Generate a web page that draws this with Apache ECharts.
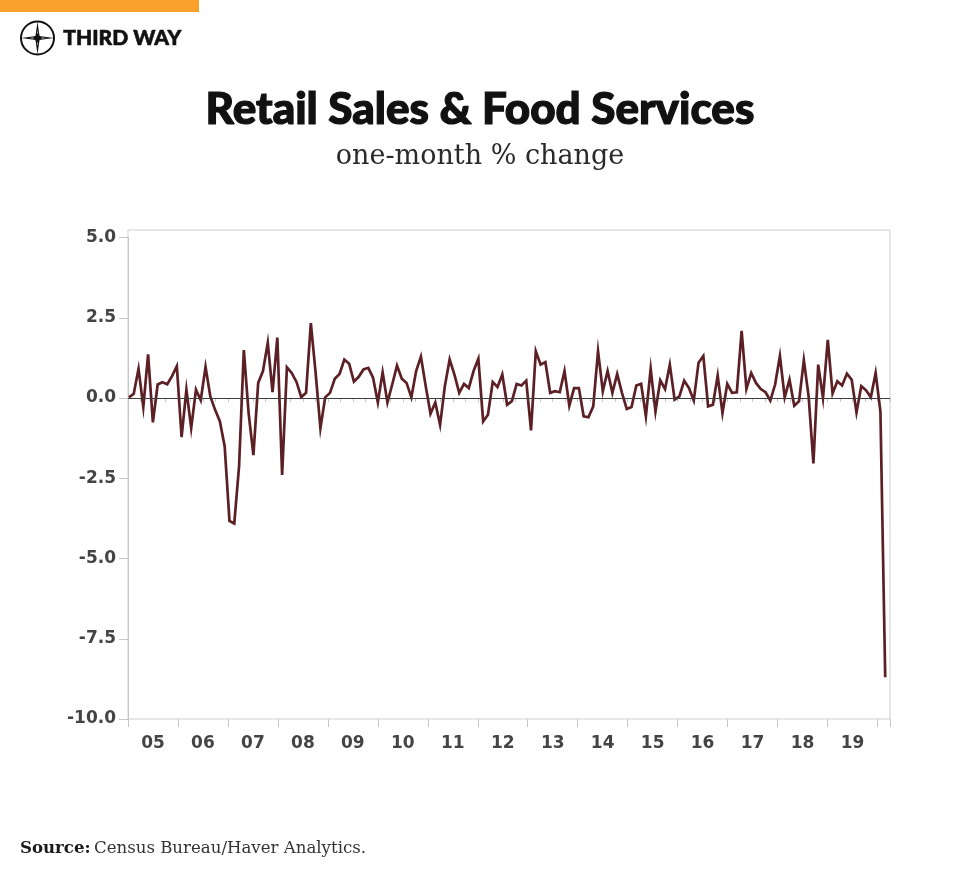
<!DOCTYPE html>
<html>
<head>
<meta charset="utf-8">
<script src="https://cdn.jsdelivr.net/npm/echarts@6/dist/echarts.min.js"></script>
<style>
  html, body { margin: 0; padding: 0; background: #ffffff; }
  #chart { width: 960px; height: 884px; }
</style>
</head>
<body>
<div id="chart"></div>
<script>
// ---- data (monthly % change, Jan 2007 .. Mar 2020, as drawn in the reference) ----
const months = [];
for (let y = 2007; y <= 2020; y++) {
  for (let m = 1; m <= 12; m++) {
    if (y === 2020 && m > 3) break;
    months.push(y + '-' + String(m).padStart(2, '0'));
  }
}
const values = [
  0.02, 0.13, 0.91, -0.28, 1.36, -0.76, 0.42, 0.49, 0.43, 0.68, 0.99, -1.22,
  0.26, -0.94, 0.26, -0.07, 0.97, 0.05, -0.37, -0.73, -1.51, -3.83, -3.91, -2.14,
  1.49, -0.47, -1.78, 0.47, 0.84, 1.72, 0.18, 1.88, -2.40,
  0.96, 0.78, 0.50, 0.03, 0.16, 2.33, 0.78, -0.94, 0.02, 0.16, 0.60, 0.75, 1.20,
  1.07, 0.51, 0.66, 0.89, 0.94, 0.63, -0.14, 0.80, -0.14, 0.42, 1.01, 0.60, 0.47, 0.02,
  0.84, 1.29, 0.37, -0.49, -0.14, -0.84, 0.37, 1.20, 0.73, 0.16, 0.44, 0.31, 0.84,
  1.22, -0.73, -0.52, 0.50, 0.34, 0.73, -0.21, -0.10, 0.44, 0.39, 0.54, -1.01, 1.46,
  1.04, 1.12, 0.16, 0.21, 0.18, 0.84, -0.24, 0.31, 0.31, -0.57, -0.60, -0.26, 1.46,
  0.21, 0.84, 0.16, 0.75, 0.16, -0.34, -0.28, 0.39, 0.44, -0.57, 0.91, -0.42, 0.55,
  0.28, 1.04, -0.05, 0.05, 0.54, 0.31, -0.08, 1.10, 1.31, -0.26, -0.21, 0.70, -0.47,
  0.44, 0.16, 0.18, 2.09, 0.28, 0.78, 0.47, 0.28, 0.18, -0.08, 0.42, 1.31, 0.02, 0.57,
  -0.24, -0.10, 1.18, 0.05, -2.04, 1.04, 0.00, 1.81, 0.14, 0.52, 0.39, 0.76, 0.57,
  -0.45, 0.37, 0.24, 0.02, 0.78, -0.42, -8.70
];
// x-axis year labels as printed on the reference (placed mid-year)
const yearLabels = ['05','06','07','08','09','10','11','12','13','14','15','16','17','18','19'];
const yTicks = { min: -10, max: 5, step: 2.5 };

const titleText = 'Retail Sales & Food Services';
const subtitleText = 'one-month % change';
const sourceBold = 'Source:';
const sourceText = 'Census Bureau/Haver Analytics.';

const chart = echarts.init(document.getElementById('chart'), null, { renderer: 'canvas' });

const axisGray = '#c6c6c6';
const labelColor = '#444444';
const labelFont = 'DejaVu Sans';

const option = {
  backgroundColor: '#ffffff',
  animation: false,
  title: [
    {
      text: titleText, left: 'center', top: 83,
      textStyle: { fontFamily: 'Lato', fontWeight: 900, fontSize: 44, color: '#111111',
                   textBorderColor: '#111111', textBorderWidth: 1.2 }
    },
    {
      text: subtitleText, left: 'center', top: 138,
      textStyle: { fontFamily: 'DejaVu Serif', fontWeight: 'normal', fontSize: 27, color: '#2a2a2a' }
    }
  ],
  graphic: [
    { type: 'rect', shape: { x: 0, y: 0, width: 199, height: 12 }, style: { fill: '#f9a12b' }, silent: true },
    { type: 'circle', shape: { cx: 37.5, cy: 38, r: 16.5 }, style: { fill: '#ffffff', stroke: '#111111', lineWidth: 2 }, silent: true },
    { type: 'polygon', shape: { points: [
        [37.5, 26], [39, 36.5], [49.5, 38], [39, 39.5], [37.5, 50], [36, 39.5], [25.5, 38], [36, 36.5]
      ] }, style: { fill: '#ffffff', stroke: '#111111', lineWidth: 1.2 }, silent: true },
    { type: 'polygon', shape: { points: [
        [37.5, 33], [39.5, 36], [42.5, 38], [39.5, 40], [37.5, 43], [35.5, 40], [32.5, 38], [35.5, 36]
      ] }, style: { fill: '#111111' }, silent: true },
    { type: 'text', left: 63, top: 27, style: { text: 'THIRD WAY', fontFamily: 'Lato', fontWeight: 900, fontSize: 21, fill: '#111111', stroke: '#111111', lineWidth: 0.6 }, silent: true },
    { type: 'rect', shape: { x: 128, y: 230, width: 762, height: 489 }, style: { fill: 'none', stroke: '#cfcfcf', lineWidth: 1 }, silent: true, z: 0 },
    { type: 'text', left: 20, top: 840,
      style: {
        text: '{b|' + sourceBold + '} {r|' + sourceText + '}',
        rich: {
          b: { fontFamily: 'DejaVu Serif', fontWeight: 'bold', fontSize: 16.6, fill: '#1a1a1a' },
          r: { fontFamily: 'DejaVu Serif', fontWeight: 'normal', fontSize: 16.6, fill: '#333333' }
        }
      }, silent: true }
  ],
  grid: { left: 128, right: 70, top: 237.5, bottom: 165, containLabel: false },
  xAxis: [
    {
      type: 'value', min: 0, max: 15.25, interval: 0.25, position: 'bottom',
      axisLine: { show: true, lineStyle: { color: axisGray, width: 1 } },
      axisTick: { show: true, length: 4, lineStyle: { color: axisGray } },
      splitLine: { show: false },
      axisLabel: {
        margin: 16, color: labelColor, fontFamily: labelFont, fontWeight: 'bold', fontSize: 17,
        formatter: function (v) {
          const f = v - Math.floor(v);
          return Math.abs(f - 0.5) < 1e-6 ? (yearLabels[Math.floor(v)] || '') : '';
        }
      }
    },
    {
      type: 'value', min: 0, max: 15.25, interval: 1, position: 'bottom',
      axisLine: { show: false },
      axisTick: { show: true, length: 8, lineStyle: { color: axisGray } },
      axisLabel: { show: false },
      splitLine: { show: false }
    },
    {
      type: 'value', min: -0.2, max: 159, show: false,
      splitLine: { show: false }
    }
  ],
  yAxis: {
    type: 'value', min: yTicks.min, max: yTicks.max, interval: yTicks.step,
    axisLine: { show: true, lineStyle: { color: axisGray, width: 1 } },
    axisTick: { show: true, length: 9, lineStyle: { color: axisGray } },
    splitLine: { show: false },
    axisLabel: {
      margin: 12, color: labelColor, fontFamily: labelFont, fontWeight: 'bold', fontSize: 17,
      formatter: function (v) { return v.toFixed(1); }
    }
  },
  series: [
    {
      type: 'line',
      name: 'Retail Sales & Food Services',
      xAxisIndex: 2,
      data: values.map(function (v, i) { return [i, v, months[i]]; }),
      showSymbol: false,
      lineStyle: { color: '#5b1f24', width: 2.7, join: 'miter' },
      itemStyle: { color: '#5b1f24' },
      z: 3,
      markLine: {
        silent: true, symbol: 'none',
        label: { show: false },
        lineStyle: { color: '#3c3c3c', width: 1.2, type: 'solid' },
        data: [{ yAxis: 0 }]
      }
    }
  ]
};
chart.setOption(option);
</script>
</body>
</html>
